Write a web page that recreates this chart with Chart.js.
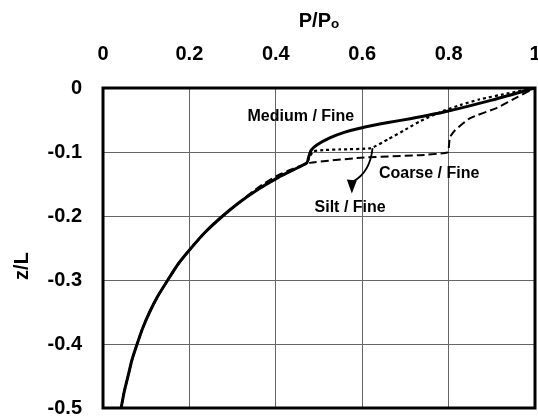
<!DOCTYPE html>
<html>
<head>
<meta charset="utf-8">
<script src="https://cdn.jsdelivr.net/npm/chart.js@4.4.1/dist/chart.umd.min.js"></script>
<style>
  html, body { margin: 0; padding: 0; background: #fff; }
</style>
</head>
<body>
<canvas id="chart" width="538" height="418"></canvas>
<script>
// shared lower branch (all three curves overlap here)
const mainP = [0.042, 0.049, 0.058, 0.067, 0.079, 0.092, 0.108, 0.127, 0.150, 0.174, 0.204, 0.237, 0.277, 0.313, 0.355, 0.405, 0.437, 0.472];
const mainZ = [-0.5, -0.475, -0.45, -0.425, -0.40, -0.375, -0.35, -0.325, -0.30, -0.275, -0.25, -0.225, -0.20, -0.18, -0.16, -0.14, -0.129, -0.117];

// Medium / Fine (solid)
const mediumP = [0.476, 0.482, 0.495, 0.525, 0.560, 0.597, 0.660, 0.711, 0.787, 0.900, 1.0];
const mediumZ = [-0.108, -0.097, -0.089, -0.078, -0.069, -0.0625, -0.054, -0.048, -0.038, -0.019, 0];

// Coarse / Fine (dashed)
const coarseP = [0.360, 0.400, 0.440, 0.479, 0.597, 0.734, 0.787, 0.799, 0.803, 0.815, 0.850, 0.912, 0.960, 1.0];
const coarseZ = [-0.155, -0.138, -0.126, -0.117, -0.109, -0.105, -0.102, -0.100, -0.077, -0.066, -0.047, -0.031, -0.014, 0];

// Silt / Fine (dotted)
const siltP = [0.478, 0.487, 0.510, 0.550, 0.620, 0.660, 0.700, 0.734, 0.787, 0.830, 0.870, 0.940, 1.0];
const siltZ = [-0.108, -0.099, -0.097, -0.096, -0.094, -0.080, -0.065, -0.052, -0.036, -0.026, -0.018, -0.008, 0];

const xTickLabels = ['0', '0.2', '0.4', '0.6', '0.8', '1'];
const yTickLabels = ['-0.5', '-0.4', '-0.3', '-0.2', '-0.1', '0'];

const FONT = 'Liberation Sans, Arial, sans-serif';

function toPoints(ps, zs) {
  return ps.map((p, i) => ({ x: p, y: zs[i] }));
}

const mediumData = toPoints(mainP.concat(mediumP), mainZ.concat(mediumZ));
const coarseData = toPoints(mainP.slice(0, 14).concat(coarseP), mainZ.slice(0, 14).concat(coarseZ));
const siltData = toPoints(mainP.concat(siltP), mainZ.concat(siltZ));

const notes = [
  { text: 'Medium / Fine', p: 0.458, z: -0.044 },
  { text: 'Coarse / Fine', p: 0.755, z: -0.134 },
  { text: 'Silt / Fine',   p: 0.572, z: -0.187 }
];

const framePlugin = {
  id: 'frame',
  afterDatasetsDraw(chart) {
    const { ctx, chartArea: a, scales } = chart;
    const x = scales.x, y = scales.y;
    ctx.save();

    // annotations
    ctx.fillStyle = '#000';
    ctx.font = 'bold 16px ' + FONT;
    ctx.textAlign = 'center';
    ctx.textBaseline = 'middle';
    notes.forEach(n => ctx.fillText(n.text, x.getPixelForValue(n.p), y.getPixelForValue(n.z)));

    // arrow pointing at the silt curve label
    const sx = x.getPixelForValue(0.624), sy = y.getPixelForValue(-0.094);
    const cx = x.getPixelForValue(0.618), cy = y.getPixelForValue(-0.132);
    const ex = x.getPixelForValue(0.579), ey = y.getPixelForValue(-0.146);
    const tx = x.getPixelForValue(0.576), ty = y.getPixelForValue(-0.165);
    ctx.strokeStyle = '#000';
    ctx.lineWidth = 1.8;
    ctx.beginPath();
    ctx.moveTo(sx, sy);
    ctx.quadraticCurveTo(cx, cy, ex, ey);
    ctx.stroke();
    ctx.beginPath();
    ctx.moveTo(tx, ty);
    ctx.lineTo(tx - 5, ey - 2);
    ctx.lineTo(tx + 5, ey - 1);
    ctx.closePath();
    ctx.fill();

    // heavy frame
    ctx.lineWidth = 3;
    ctx.strokeRect(a.left, a.top, a.right - a.left, a.bottom - a.top);

    // y axis title, sits a little below the middle
    ctx.font = 'bold 20px ' + FONT;
    ctx.translate(22, (a.top + a.bottom) / 2 + 18);
    ctx.rotate(-Math.PI / 2);
    ctx.fillText('z/L', 0, 0);
    ctx.restore();
  }
};

new Chart(document.getElementById('chart'), {
  type: 'scatter',
  data: {
    datasets: [
      { label: 'Medium / Fine', data: mediumData, showLine: true, borderColor: '#000', borderWidth: 3, pointRadius: 0, tension: 0.2 },
      { label: 'Coarse / Fine', data: coarseData, showLine: true, borderColor: '#000', borderWidth: 2, borderDash: [8, 4], pointRadius: 0, tension: 0.15 },
      { label: 'Silt / Fine',   data: siltData,   showLine: true, borderColor: '#000', borderWidth: 2.2, borderDash: [3, 3], pointRadius: 0, tension: 0.15 }
    ]
  },
  options: {
    responsive: false,
    animation: false,
    layout: { padding: { left: 0, right: 3, top: 0, bottom: 10 } },
    plugins: {
      legend: { display: false },
      tooltip: { enabled: false }
    },
    scales: {
      x: {
        type: 'linear',
        position: 'top',
        min: 0,
        max: 1,
        ticks: {
          stepSize: 0.2, color: '#000', padding: 22,
          font: { family: FONT, size: 20, weight: 'bold' },
          callback: (v, i) => xTickLabels[i]
        },
        grid: { color: '#666', lineWidth: 1, drawTicks: false },
        border: { display: false },
        title: { display: true, text: 'P/Pₒ', color: '#000', padding: { top: 9, bottom: 0 }, font: { family: FONT, size: 20, weight: 'bold' } },
        afterFit(scale) {
          scale.height = 88;
          scale.paddingLeft = 0;
          scale.paddingRight = 0;
        }
      },
      y: {
        type: 'linear',
        min: -0.5,
        max: 0,
        ticks: {
          stepSize: 0.1, color: '#000', padding: 21,
          font: { family: FONT, size: 20, weight: 'bold' },
          callback: (v, i) => yTickLabels[i]
        },
        grid: { color: '#666', lineWidth: 1, drawTicks: false },
        border: { display: false },
        afterFit(scale) {
          scale.width = 103;
          scale.paddingTop = 0;
          scale.paddingBottom = 0;
        }
      }
    }
  },
  plugins: [framePlugin]
});
</script>
</body>
</html>
